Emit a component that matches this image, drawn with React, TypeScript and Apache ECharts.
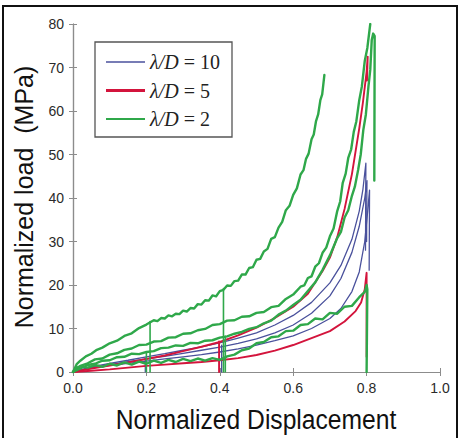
import React, { useEffect, useRef } from "react";
import * as echarts from "echarts";

type Pt = [number, number];

// λ/D = 10 (blue) loading curves
const blueUpper: Pt[] = [
  [0, 0], [0.05, 1.2], [0.1, 2.0], [0.15, 2.7], [0.2, 3.5], [0.25, 4.2], [0.3, 5.0], [0.35, 5.8],
  [0.4, 6.7], [0.45, 7.8], [0.5, 9.0], [0.55, 10.8], [0.6, 13.0], [0.65, 16.0], [0.7, 20.5],
  [0.73, 24.5], [0.76, 30.5], [0.78, 37], [0.79, 42], [0.798, 48], [0.797, 28],
];
const blueMiddle: Pt[] = [
  [0, 0], [0.05, 1.0], [0.1, 1.7], [0.15, 2.4], [0.2, 3.0], [0.25, 3.6], [0.3, 4.3], [0.35, 5.0],
  [0.4, 5.7], [0.45, 6.6], [0.5, 7.6], [0.55, 9.0], [0.6, 10.8], [0.65, 13.5], [0.7, 17.5],
  [0.73, 21.5], [0.76, 27.5], [0.78, 33.5], [0.795, 40], [0.801, 44], [0.8, 30],
];
const blueLower: Pt[] = [
  [0, 0], [0.05, 0.9], [0.1, 1.5], [0.15, 2.0], [0.2, 2.5], [0.25, 3.0], [0.3, 3.5], [0.35, 4.0],
  [0.4, 4.6], [0.45, 5.3], [0.5, 6.2], [0.55, 7.2], [0.6, 8.3], [0.65, 10.0], [0.7, 12.3],
  [0.73, 14.6], [0.76, 18.5], [0.78, 23], [0.795, 30], [0.803, 37], [0.808, 41.8], [0.807, 23.4],
];
const blueStop02: Pt[] = [[0.197, 3.2], [0.197, 0]];
const blueStop04: Pt[] = [[0.405, 6.2], [0.405, 0]];

// λ/D = 5 (red) loading curves
const redUpper: Pt[] = [
  [0, 0], [0.05, 0.8], [0.1, 1.5], [0.15, 2.2], [0.2, 3.0], [0.25, 3.8], [0.3, 4.8], [0.35, 5.8],
  [0.4, 6.9], [0.45, 8.4], [0.5, 10.2], [0.55, 12.4], [0.6, 15.0], [0.64, 18.0], [0.68, 23.2],
  [0.7, 26.3], [0.72, 31], [0.74, 37.5], [0.76, 45.5], [0.78, 56], [0.79, 62], [0.8, 69],
  [0.803, 72.5], [0.801, 67],
];
const redLower: Pt[] = [
  [0, 0], [0.05, 0.3], [0.1, 0.6], [0.15, 1.0], [0.2, 1.4], [0.25, 1.7], [0.3, 2.0], [0.35, 2.3],
  [0.4, 2.7], [0.45, 3.2], [0.5, 3.9], [0.55, 4.9], [0.6, 6.2], [0.65, 7.8], [0.7, 9.4],
  [0.74, 11.6], [0.77, 14], [0.785, 16], [0.795, 19], [0.8, 22.8], [0.8, 3.5],
];
const redStop04: Pt[] = [[0.398, 7.0], [0.398, 0]];

// λ/D = 2 (green) loading curves, with their measured jitter
const greenTop: Pt[] = [
  [0, 0], [0.01, 1.8], [0.02, 2.6], [0.035, 3.6], [0.05, 4.2], [0.065, 5.1], [0.08, 5.6],
  [0.1, 6.6], [0.12, 7.2], [0.14, 8.3], [0.16, 8.9], [0.18, 10.1], [0.2, 10.9], [0.22, 11.9],
  [0.23, 11.7], [0.24, 12.4], [0.25, 12.3], [0.26, 13.0], [0.27, 12.8], [0.28, 13.4], [0.29, 13.3],
  [0.3, 14.1], [0.31, 13.9], [0.32, 14.7], [0.33, 14.6], [0.34, 15.6], [0.35, 15.5], [0.36, 16.5],
  [0.37, 16.4], [0.38, 17.6], [0.39, 17.4], [0.4, 18.6], [0.41, 18.9], [0.42, 19.9], [0.43, 19.8],
  [0.44, 20.9], [0.45, 21.0], [0.46, 22.4], [0.47, 22.4], [0.48, 23.9], [0.49, 24.1], [0.5, 25.8],
  [0.51, 26.0], [0.52, 27.7], [0.53, 28.3], [0.54, 30.6], [0.55, 31.0], [0.56, 33.2], [0.57, 34.5],
  [0.58, 37.2], [0.59, 38.2], [0.6, 40.7], [0.61, 42.2], [0.62, 45.4], [0.628, 46.4],
  [0.635, 49.0], [0.642, 50.2], [0.65, 53.5], [0.656, 54.6], [0.662, 57.6], [0.668, 59.2],
  [0.674, 62.5], [0.679, 63.8], [0.685, 68.3],
];
const greenSecond: Pt[] = [
  [0, 0], [0.02, 1.4], [0.04, 2.0], [0.06, 2.9], [0.08, 3.1], [0.1, 4.0], [0.12, 4.3], [0.14, 5.1],
  [0.16, 5.4], [0.18, 6.2], [0.2, 6.3], [0.22, 7.0], [0.24, 7.1], [0.26, 7.9], [0.28, 8.0],
  [0.3, 8.8], [0.32, 8.9], [0.34, 9.6], [0.36, 9.9], [0.38, 10.8], [0.4, 11.0], [0.42, 11.8],
  [0.44, 11.9], [0.46, 12.7], [0.48, 12.8], [0.5, 13.6], [0.52, 13.8], [0.54, 14.9], [0.56, 15.2],
  [0.58, 16.8], [0.6, 17.8], [0.62, 19.6], [0.63, 19.9], [0.64, 21.6], [0.65, 22.0], [0.66, 24.2],
  [0.67, 25.0], [0.68, 27.4], [0.69, 28.6], [0.7, 31.2], [0.71, 33.0], [0.72, 37.0], [0.728, 39.2],
  [0.735, 43.5], [0.743, 45.6], [0.75, 49.2], [0.758, 51.2], [0.765, 55.2], [0.772, 57.6],
  [0.78, 62.5], [0.787, 65.6], [0.795, 71.5], [0.802, 74.5], [0.81, 80],
];
const greenThird: Pt[] = [
  [0, 0], [0.02, 0.8], [0.04, 1.6], [0.06, 1.9], [0.08, 2.6], [0.1, 2.7], [0.12, 3.4], [0.14, 3.5],
  [0.16, 4.2], [0.18, 4.1], [0.2, 4.6], [0.22, 4.8], [0.24, 5.5], [0.26, 5.6], [0.28, 6.1],
  [0.3, 6.0], [0.32, 6.7], [0.34, 6.6], [0.36, 7.2], [0.38, 7.3], [0.4, 7.9], [0.42, 8.2],
  [0.44, 8.8], [0.46, 9.2], [0.48, 9.9], [0.5, 10.3], [0.52, 11.2], [0.54, 11.8], [0.56, 13.2],
  [0.58, 14.1], [0.6, 15.4], [0.62, 16.6], [0.64, 18.6], [0.66, 20.6], [0.68, 23.5], [0.7, 26.8],
  [0.72, 30.8], [0.73, 32.2], [0.74, 35.5], [0.75, 37.2], [0.76, 40.5], [0.768, 42.6],
  [0.777, 46.5], [0.784, 50.0], [0.791, 55.6], [0.798, 59.2], [0.805, 65.6], [0.81, 69.5],
  [0.814, 76.3], [0.818, 77.8], [0.822, 77.2], [0.821, 44],
];
const greenLow: Pt[] = [
  [0, 0], [0.01, 1.0], [0.02, 1.3], [0.04, 1.0], [0.06, 1.6], [0.08, 1.2], [0.1, 1.9], [0.12, 1.5],
  [0.14, 2.2], [0.16, 1.7], [0.18, 2.4], [0.2, 1.9], [0.22, 2.6], [0.24, 2.1], [0.26, 2.8],
  [0.28, 2.3], [0.3, 3.0], [0.32, 2.5], [0.34, 3.1], [0.36, 2.6], [0.38, 3.2], [0.4, 2.8],
  [0.42, 3.6], [0.44, 4.0], [0.46, 5.0], [0.48, 5.4], [0.5, 6.6], [0.52, 6.9], [0.54, 8.0],
  [0.56, 8.2], [0.58, 9.4], [0.6, 9.5], [0.62, 10.8], [0.64, 11.0], [0.66, 12.3], [0.68, 12.1],
  [0.7, 13.6], [0.72, 13.4], [0.74, 15.0], [0.76, 15.2], [0.78, 17.2], [0.795, 18.4], [0.8, 20],
  [0.802, 19], [0.8, 0],
];
const greenStop02a: Pt[] = [[0.21, 11.6], [0.21, 0]];
const greenStop02b: Pt[] = [[0.2, 4.6], [0.2, 0]];
const greenStop04a: Pt[] = [[0.41, 19.2], [0.41, 0]];
const greenStop04b: Pt[] = [[0.415, 8.2], [0.415, 0]];

// Axis ranges and legend labels
const xRange: [number, number, number] = [0, 1, 0.2];
const yRange: [number, number, number] = [0, 80, 10];
const legendValues = ["10", "5", "2"];

const BLUE = "#4a519c";
const RED = "#d3143c";
const GREEN = "#2fa84a";

export default function App() {
  const ref = useRef<HTMLDivElement>(null);

  useEffect(() => {
    const chart = echarts.init(ref.current!, null, { renderer: "svg" });

    const line = (data: Pt[], color: string, width: number, z: number) => ({
      type: "line",
      data,
      symbol: "none",
      silent: true,
      z,
      lineStyle: { color, width, join: "round", cap: "round" },
    });

    const baseAxis = {
      axisLine: { show: true, lineStyle: { color: "#8c8c8c", width: 1.2 } },
      axisTick: { show: true, inside: true, length: 4, lineStyle: { color: "#8c8c8c" } },
      splitLine: { show: false },
    };
    const tickFont = {
      fontFamily: "'Liberation Sans', Arial, sans-serif",
      fontSize: 14,
      color: "#2a2a2a",
    };

    const legendRows = [BLUE, RED, GREEN];
    const legendWidths = [1.4, 3, 2.2];
    const legendGraphics: any[] = [
      {
        type: "rect",
        shape: { x: 95, y: 42, width: 137, height: 95 },
        style: { fill: "#fff", stroke: "#555", lineWidth: 1.3 },
        z: 100,
      },
    ];
    legendRows.forEach((c, i) => {
      const y = 62 + i * 28.5;
      legendGraphics.push({
        type: "line",
        shape: { x1: 106, y1: y, x2: 145, y2: y },
        style: { stroke: c, lineWidth: legendWidths[i] },
        z: 101,
      });
      legendGraphics.push({
        type: "text",
        x: 150,
        y,
        style: {
          text: `{i|λ/D} = ${legendValues[i]}`,
          fontFamily: "'Liberation Serif', 'Times New Roman', serif",
          fontSize: 20,
          fill: "#222",
          verticalAlign: "middle",
          align: "left",
          rich: {
            i: {
              fontFamily: "'Liberation Serif', 'Times New Roman', serif",
              fontSize: 20,
              fontStyle: "italic",
              fill: "#222",
            },
          },
        },
        z: 101,
      });
    });

    chart.setOption({
      animation: false,
      backgroundColor: "#fff",
      grid: { left: 73, top: 24, right: 22, bottom: 66, containLabel: false },
      xAxis: [
        {
          ...baseAxis,
          type: "value",
          min: xRange[0],
          max: xRange[1],
          interval: xRange[2],
          position: "bottom",
          axisLabel: { ...tickFont, margin: 9, formatter: (v: number) => v.toFixed(1) },
        },
        {
          ...baseAxis,
          type: "value",
          min: xRange[0],
          max: xRange[1],
          interval: xRange[2],
          position: "top",
          axisLabel: { show: false },
        },
      ],
      yAxis: [
        {
          ...baseAxis,
          type: "value",
          min: yRange[0],
          max: yRange[1],
          interval: yRange[2],
          position: "left",
          axisLabel: { ...tickFont, margin: 9 },
        },
        {
          ...baseAxis,
          type: "value",
          min: yRange[0],
          max: yRange[1],
          interval: yRange[2],
          position: "right",
          axisLabel: { show: false },
        },
      ],
      series: [
        line(blueUpper, BLUE, 1.3, 2),
        line(blueMiddle, BLUE, 1.3, 2),
        line(blueLower, BLUE, 1.3, 2),
        line(blueStop02, BLUE, 1.3, 2),
        line(blueStop04, BLUE, 1.3, 2),
        line(redUpper, RED, 1.9, 3),
        line(redLower, RED, 1.9, 3),
        line(redStop04, RED, 1.9, 3),
        line(greenTop, GREEN, 2.4, 4),
        line(greenSecond, GREEN, 2.4, 4),
        line(greenThird, GREEN, 2.4, 4),
        line(greenLow, GREEN, 2.4, 4),
        line(greenStop02a, GREEN, 1.6, 4),
        line(greenStop02b, GREEN, 1.6, 4),
        line(greenStop04a, GREEN, 1.6, 4),
        line(greenStop04b, GREEN, 1.6, 4),
      ],
      graphic: [
        {
          type: "rect",
          shape: { x: 3, y: 6, width: 454, height: 440 },
          style: { fill: "none", stroke: "#111", lineWidth: 2 },
          z: 0,
        },
        {
          type: "text",
          x: 24,
          y: 197,
          rotation: Math.PI / 2,
          style: {
            text: "Normalized load  (MPa)",
            fontFamily: "'Liberation Sans', Arial, sans-serif",
            fontSize: 25,
            fill: "#111",
            align: "center",
            verticalAlign: "middle",
          },
        },
        {
          type: "text",
          x: 256,
          y: 419,
          scaleX: 0.88,
          style: {
            text: "Normalized Displacement",
            fontFamily: "'Liberation Sans', Arial, sans-serif",
            fontSize: 28,
            fill: "#111",
            align: "center",
            verticalAlign: "middle",
          },
        },
        ...legendGraphics,
      ],
    });

    return () => chart.dispose();
  }, []);

  return (
    <div
      ref={ref}
      style={{ position: "absolute", left: 0, top: 0, width: 462, height: 438, background: "#fff" }}
    />
  );
}
